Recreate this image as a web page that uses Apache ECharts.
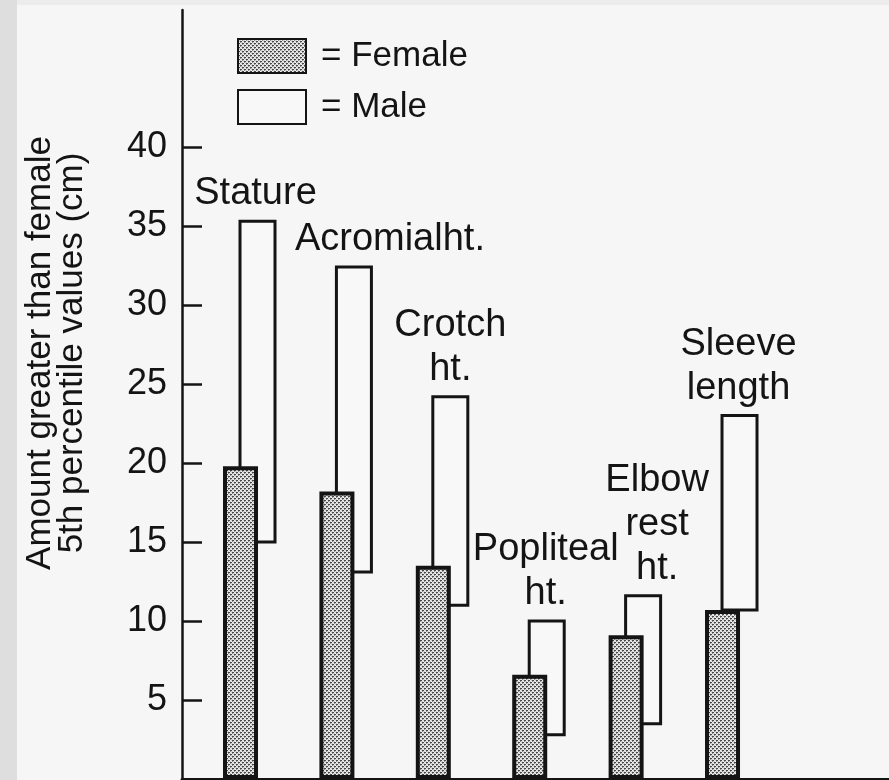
<!DOCTYPE html>
<html>
<head>
<meta charset="utf-8">
<script src="https://cdn.jsdelivr.net/npm/echarts@6/dist/echarts.min.js"></script>
<style>
html,body{margin:0;padding:0;background:#f6f6f6;}
#chart{width:889px;height:780px;}
</style>
</head>
<body>
<div id="chart"></div>
<script>
// ---- data ----
const categories = ['Stature', 'Acromialht.', 'Crotch\nht.', 'Popliteal\nht.', 'Elbow\nrest\nht.', 'Sleeve\nlength'];
const femaleValues = [19.8, 18.2, 13.5, 6.6, 9.1, 10.7];
const maleLow = [15.0, 13.1, 11.0, 2.8, 3.5, 10.7];
const maleHigh = [35.3, 32.4, 24.2, 10.0, 11.6, 23.0];
const yTickValues = [5, 10, 15, 20, 25, 30, 35, 40];
const yAxisTitle = 'Amount greater than female\n5th percentile values (cm)';
const legendNames = ['Female', 'Male'];

// ---- style ----
const FONT = '"Liberation Sans", Arial, Helvetica, sans-serif';
const INK = '#141414';
const BAR_W = 35;
const MALE_SHIFT = 17;
const labelShift = [-2, 36, 0, -1, 14, -1];

// stipple (halftone) pattern for female bars
const pc = document.createElement('canvas');
pc.width = 4; pc.height = 4;
const px = pc.getContext('2d');
px.fillStyle = '#d2d2d2'; px.fillRect(0, 0, 4, 4);
px.fillStyle = '#474747';
px.fillRect(0, 0, 2, 1); px.fillRect(2, 2, 2, 1);
px.fillStyle = '#8c8c8c';
px.fillRect(0, 1, 1, 1); px.fillRect(2, 3, 1, 1);
px.fillStyle = '#f2f2f2';
px.fillRect(2, 0, 1, 1); px.fillRect(0, 2, 1, 1); px.fillRect(3, 1, 1, 1); px.fillRect(1, 3, 1, 1);
const stipple = { image: pc, repeat: 'repeat' };

const chart = echarts.init(document.getElementById('chart'), null, { renderer: 'canvas' });

const option = {
  backgroundColor: '#f6f6f6',
  animation: false,
  textStyle: { fontFamily: FONT },
  grid: { left: 182, right: 0, top: 10, bottom: 1 },
  legend: {
    data: legendNames,
    orient: 'vertical',
    left: 237, top: 38, padding: 0,
    itemWidth: 68, itemHeight: 34, itemGap: 15,
    icon: 'rect',
    formatter: '= {name}',
    textStyle: { fontSize: 35, color: INK, fontFamily: FONT, padding: [4, 0, 0, 10] },
    selectedMode: false
  },
  xAxis: {
    type: 'value',
    min: -0.607, max: 6.727,
    axisLine: { show: true, onZero: false, lineStyle: { color: INK, width: 3 } },
    axisTick: { show: false },
    axisLabel: { show: false },
    splitLine: { show: false }
  },
  yAxis: {
    type: 'value',
    min: 0, max: 48.67,
    axisLine: { show: true, onZero: false, lineStyle: { color: INK, width: 2.5 } },
    axisTick: { show: true, inside: true, length: 20, customValues: yTickValues, lineStyle: { color: INK, width: 2.5 } },
    axisLabel: { show: true, customValues: yTickValues, fontSize: 36, margin: 15, color: INK, fontFamily: FONT },
    splitLine: { show: false }
  },
  graphic: [
    { type: 'rect', left: 0, top: 0, shape: { width: 17, height: 780 }, style: { fill: '#dedede' }, z: -1 },
    { type: 'rect', left: 17, top: 0, shape: { width: 872, height: 5 }, style: { fill: '#ececec' }, z: -1 },
    { type: 'text', x: 56, y: 353, rotation: Math.PI / 2,
      style: { text: yAxisTitle, font: '35px ' + FONT, fill: INK, align: 'center', verticalAlign: 'middle', lineHeight: 32 } }
  ],
  series: [
    {
      name: 'Female', type: 'bar', z: 3,
      barWidth: BAR_W,
      itemStyle: { color: stipple, borderColor: INK, borderWidth: 4 },
      data: femaleValues.map((v, i) => [i, v])
    },
    {
      name: 'Male', type: 'custom', z: 2,
      itemStyle: { color: '#f8f8f8', borderColor: INK, borderWidth: 3 },
      encode: { x: 0, y: [1, 2] },
      renderItem: function (params, api) {
        const i = api.value(0);
        const top = api.coord([i, api.value(2)]);
        const bot = api.coord([i, api.value(1)]);
        return {
          type: 'rect',
          shape: { x: top[0] + MALE_SHIFT - BAR_W / 2, y: top[1], width: BAR_W, height: bot[1] - top[1] },
          style: { fill: '#f8f8f8', stroke: INK, lineWidth: 3 },
          textContent: {
            style: { text: categories[i], font: '38px ' + FONT, fill: INK, align: 'center', lineHeight: 44 }
          },
          textConfig: { position: 'top', distance: 4, offset: [labelShift[i], 0] }
        };
      },
      data: maleLow.map((v, i) => [i, v, maleHigh[i]])
    }
  ]
};
chart.setOption(option);
</script>
</body>
</html>
